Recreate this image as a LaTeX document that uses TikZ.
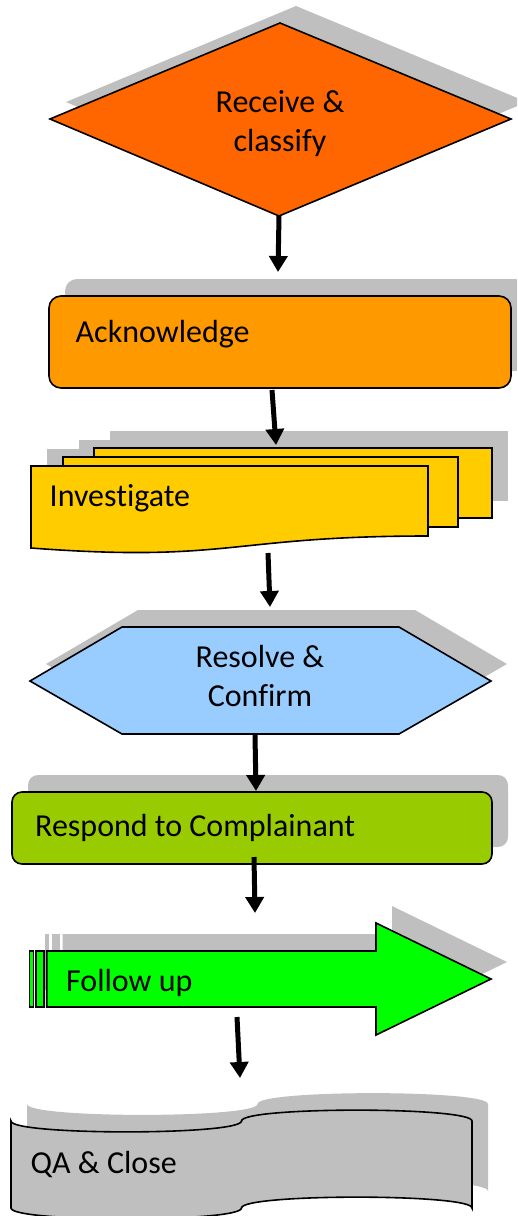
\documentclass[tikz,border=0pt]{standalone}
\usepackage{fontspec}
\setmainfont{Carlito}[Ligatures=NoCommon]
\usetikzlibrary{arrows.meta}
\definecolor{shadowgray}{HTML}{BFBFBF}
\definecolor{recvfill}{HTML}{FF6600}
\definecolor{ackfill}{HTML}{FF9900}
\definecolor{invfill}{HTML}{FFCC00}
\definecolor{resfill}{HTML}{99CCFF}
\definecolor{rspfill}{HTML}{99CC00}
\definecolor{folfill}{HTML}{00FF00}
\newcommand\pDiamond{(280,23) -- (511,119) -- (279,216) -- (50,119) -- cycle}
\newcommand\pDocBack{(94,448) rectangle (492,518)}
\newcommand\pDocMid{(63,457) rectangle (458,527)}
\newcommand\pDocFront{(31,466) -- (428,466) -- (428,536) .. controls (229.5,536) and (229.5,563) .. (31,548) -- cycle}
\newcommand\pHex{(30,681) -- (122,627) -- (399,627) -- (491,681) -- (399,734) -- (122,734) -- cycle}
\newcommand\pStripeA{(29.3,951) rectangle (33.3,1007)}
\newcommand\pStripeB{(36,951) rectangle (44,1007)}
\newcommand\pArrowBody{(46.7,951) -- (376,951) -- (376,923) -- (491,979) -- (376,1035) -- (376,1007) -- (46.7,1007) -- cycle}
\newcommand\pTape{(11,1121) .. controls (11,1135.5) and (241.5,1135.5) .. (241.5,1121) .. controls (241.5,1106.5) and (472,1106.5) .. (472,1121) -- (472,1208) .. controls (472,1193.5) and (241.5,1193.5) .. (241.5,1208) .. controls (241.5,1222.5) and (11,1222.5) .. (11,1208) -- cycle}
\begin{document}
\begin{tikzpicture}[x=1pt,y=-1pt,
  outline/.style={draw=black, line width=1.6pt, line join=miter},
  shade/.style={fill=shadowgray, draw=none, shift={(16,-17)}},
  flowarrow/.style={-{Triangle[width=18pt,length=16pt]}, line width=5pt, draw=black},
  lbl/.style={font=\fontsize{32}{39}\selectfont, inner sep=0pt, text=black}]
\useasboundingbox (0,0) rectangle (517,1216);
\clip (0,0) rectangle (517,1216);
% shadows
\fill[shade] \pDiamond;
\fill[shade, rounded corners=12pt] (49,296) rectangle (511,388);
\fill[shade] \pDocBack;
\fill[shade] \pDocMid;
\fill[shade] \pDocFront;
\fill[shade] \pHex;
\fill[shade, rounded corners=10pt] (12,792) rectangle (492,864);
\fill[shade] \pStripeA;
\fill[shade] \pStripeB;
\fill[shade] \pArrowBody;
\fill[shade] \pTape;
% shapes
\path[outline, fill=recvfill] \pDiamond;
\path[outline, fill=ackfill, rounded corners=12pt] (49,296) rectangle (511,388);
\path[outline, fill=invfill] \pDocBack;
\path[outline, fill=invfill] \pDocMid;
\path[outline, fill=invfill] \pDocFront;
\path[outline, fill=resfill] \pHex;
\path[outline, fill=rspfill, rounded corners=10pt] (12,792) rectangle (492,864);
\path[outline, fill=folfill] \pStripeA;
\path[outline, fill=folfill] \pStripeB;
\path[outline, fill=folfill] \pArrowBody;
\path[outline, fill=shadowgray] \pTape;
% labels
\node[lbl, anchor=base, align=center] (recv) at (280,151.7) {Receive \&\\classify};
\node[lbl, anchor=base west] (ack) at (75.5,342.3) {Acknowledge};
\node[lbl, anchor=base west] (inv) at (49.5,506.7) {Investigate};
\node[lbl, anchor=base, align=center] (res) at (260,706.7) {Resolve \&\\Confirm};
\node[lbl, anchor=base west] (rsp) at (35,836.7) {Respond to Complainant};
\node[lbl, anchor=base west] (fol) at (66,991.7) {Follow up};
\node[lbl, anchor=base west] (qa) at (30.5,1173.3) {QA \& Close};
% connector end points
\coordinate (recv-out) at (279,216);
\coordinate (ack-in) at (278,272);
\coordinate (ack-out) at (272,390);
\coordinate (inv-in) at (276,445);
\coordinate (inv-out) at (268,553);
\coordinate (res-in) at (270,607);
\coordinate (res-out) at (255,735);
\coordinate (rsp-in) at (256,791);
\coordinate (rsp-out) at (254,857);
\coordinate (fol-in) at (255,913);
\coordinate (fol-out) at (237,1017);
\coordinate (qa-in) at (240,1078);
% connectors
\draw[flowarrow] (recv-out) -- (ack-in);
\draw[flowarrow] (ack-out) -- (inv-in);
\draw[flowarrow] (inv-out) -- (res-in);
\draw[flowarrow] (res-out) -- (rsp-in);
\draw[flowarrow] (rsp-out) -- (fol-in);
\draw[flowarrow] (fol-out) -- (qa-in);
\end{tikzpicture}
\end{document}
